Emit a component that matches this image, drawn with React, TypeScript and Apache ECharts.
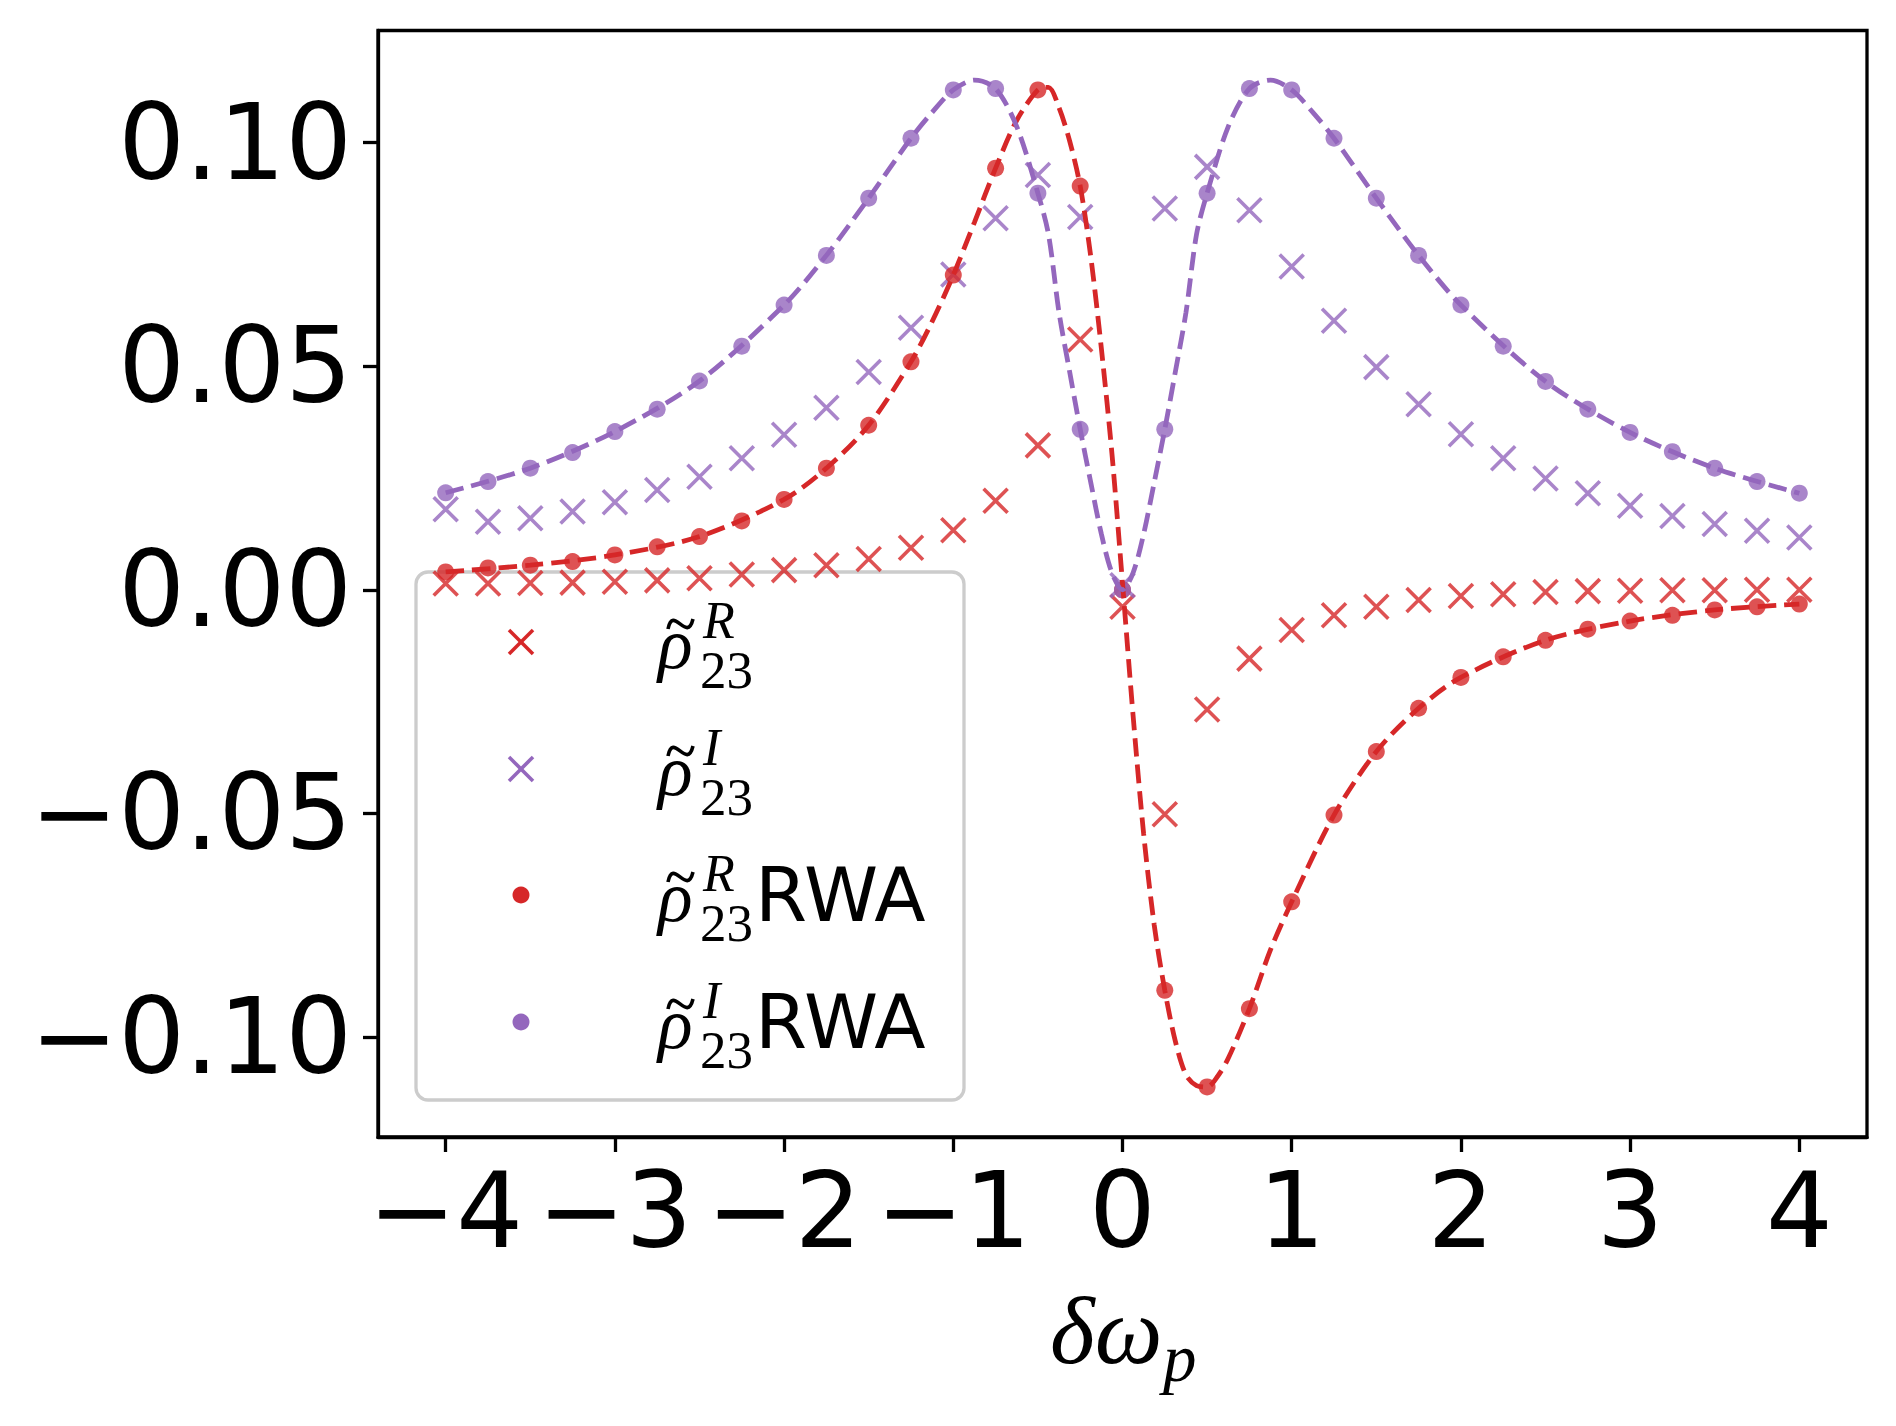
import React, { useEffect, useRef } from "react";
import * as echarts from "echarts";

// ---- data ----
const detuning = [
  -4, -3.75, -3.5, -3.25, -3, -2.75, -2.5, -2.25, -2, -1.75, -1.5, -1.25, -1, -0.75, -0.5, -0.25,
  0, 0.25, 0.5, 0.75, 1, 1.25, 1.5, 1.75, 2, 2.25, 2.5, 2.75, 3, 3.25, 3.5, 3.75, 4,
];
const rhoR = [
  0.0014, 0.0014, 0.0015, 0.0016, 0.0018, 0.0021, 0.0026, 0.0034, 0.0044, 0.0055, 0.0069, 0.0094,
  0.0133, 0.0199, 0.0323, 0.056, -0.0038, -0.0502, -0.0268, -0.0154, -0.009, -0.0057, -0.0038,
  -0.0023, -0.0014, -0.001, -0.0005, -0.0003, -0.0002, -0.0001, -0.0001, 0.0, 0.0,
];
const rhoI = [
  0.018, 0.0152, 0.016, 0.0175, 0.0196, 0.0223, 0.0253, 0.0294, 0.0347, 0.0407, 0.0487, 0.0586,
  0.0705, 0.0831, 0.0928, 0.0834, 0.001, 0.0853, 0.0946, 0.0849, 0.0723, 0.0602, 0.0498, 0.0415,
  0.0348, 0.0294, 0.0249, 0.0216, 0.0188, 0.0165, 0.0147, 0.0132, 0.0117,
];
const rhoR_RWA = [
  0.004, 0.0049, 0.0055, 0.0063, 0.0078, 0.0096, 0.0119, 0.0154, 0.0202, 0.0272, 0.0368, 0.051,
  0.0704, 0.0943, 0.1118, 0.0903, 0.0, -0.0896, -0.1112, -0.0937, -0.0698, -0.0504, -0.0362,
  -0.0265, -0.0196, -0.015, -0.0113, -0.0088, -0.007, -0.0057, -0.0045, -0.0038, -0.0032,
];
const rhoI_RWA = [
  0.0217, 0.0242, 0.0272, 0.0307, 0.0354, 0.0404, 0.0467, 0.0545, 0.0637, 0.0748, 0.0876, 0.101,
  0.1118, 0.1121, 0.0887, 0.0359, 0.0, 0.0359, 0.0887, 0.1121, 0.1118, 0.101, 0.0876, 0.0748,
  0.0637, 0.0545, 0.0466, 0.0404, 0.0352, 0.0309, 0.0272, 0.0242, 0.0216,
];
// dashed RWA curves (finer sampling)
const curveRx = [
  -4, -3.5, -3, -2.5, -2, -1.75, -1.5, -1.25, -1.125, -1, -0.875, -0.75, -0.625, -0.5, -0.4375,
  -0.375, -0.3125, -0.25, -0.1875, -0.125, -0.0625, 0, 0.0625, 0.125, 0.1875, 0.25, 0.3125, 0.375,
  0.4375, 0.5, 0.5625, 0.625, 0.75, 0.875, 1, 1.25, 1.5, 1.75, 2, 2.5, 3, 3.5, 4,
];
const curveRy = [
  0.004, 0.0055, 0.0078, 0.0119, 0.0202, 0.0272, 0.0368, 0.051, 0.06, 0.0704, 0.0822, 0.0943,
  0.105, 0.1118, 0.1124, 0.1078, 0.1004, 0.0903, 0.0745, 0.054, 0.0305, 0.0015, -0.0281, -0.0546,
  -0.075, -0.0896, -0.101, -0.1085, -0.1109, -0.1112, -0.1088, -0.1048, -0.0937, -0.0805, -0.0698,
  -0.0504, -0.0362, -0.0265, -0.0196, -0.0113, -0.007, -0.0045, -0.0032,
];
const curveIx = [
  -4, -3.5, -3, -2.5, -2, -1.75, -1.5, -1.25, -1.125, -1, -0.875, -0.75, -0.625, -0.5, -0.4375,
  -0.375, -0.3125, -0.25, -0.1875, -0.125, -0.0625, 0, 0.0625, 0.125, 0.1875, 0.25, 0.3125, 0.375,
  0.4375, 0.5, 0.625, 0.75, 0.875, 1, 1.125, 1.25, 1.5, 1.75, 2, 2.5, 3, 3.5, 4,
];
const curveIy = [
  0.0217, 0.0272, 0.0354, 0.0467, 0.0637, 0.0748, 0.0876, 0.101, 0.1068, 0.1118, 0.114, 0.1121,
  0.1036, 0.0887, 0.0795, 0.062, 0.0488, 0.0359, 0.024, 0.0125, 0.0038, 0.0, 0.0038, 0.0125, 0.024,
  0.0359, 0.0488, 0.062, 0.0795, 0.0887, 0.1036, 0.1121, 0.114, 0.1118, 0.1068, 0.101, 0.0876,
  0.0748, 0.0637, 0.0466, 0.0352, 0.0272, 0.0216,
];
const xTicks = [-4, -3, -2, -1, 0, 1, 2, 3, 4];
const yTicks = [-0.1, -0.05, 0, 0.05, 0.1];
const legendSup = ["R", "I", "R", "I"];
const legendSuffix = ["", "", "RWA", "RWA"];
const legendMarker = ["cross", "cross", "dot", "dot"];

const RED = "#d62728";
const PURPLE = "#9467bd";
const X_PATH = "path://M0 0L10 10M10 0L0 10";
const X_SIZE = 24;
const X_WIDTH = 3.6;
const DOT_SIZE = 17;
const LINE_W = 4.8;
const DASH = [18.5, 8];

const G = { left: 378, top: 30.5, width: 1489, height: 1106.5 };

function minus(s: string) {
  return s.replace("-", "\u2212");
}

function buildLegend() {
  const children: any[] = [];
  children.push({
    type: "rect",
    shape: { x: 416, y: 572, width: 548, height: 528, r: 12 },
    style: { fill: "rgba(255,255,255,0.8)", stroke: "#cccccc", lineWidth: 3.3 },
  });
  const rows = [642, 769, 895, 1022];
  rows.forEach((c, i) => {
    const color = i % 2 === 0 ? RED : PURPLE;
    if (legendMarker[i] === "cross") {
      const h = X_SIZE / 2;
      children.push({
        type: "line",
        shape: { x1: 521 - h, y1: c - h, x2: 521 + h, y2: c + h },
        style: { stroke: color, lineWidth: X_WIDTH },
      });
      children.push({
        type: "line",
        shape: { x1: 521 - h, y1: c + h, x2: 521 + h, y2: c - h },
        style: { stroke: color, lineWidth: X_WIDTH },
      });
    } else {
      children.push({
        type: "circle",
        shape: { cx: 521, cy: c, r: DOT_SIZE / 2 },
        style: { fill: color },
      });
    }
    // rho
    children.push({
      type: "text",
      x: 658,
      y: c + 1.5,
      style: {
        text: "\u03c1",
        font: "italic 72px 'Liberation Serif'",
        fill: "#000",
        align: "left",
        verticalAlign: "middle",
      },
    });
    // tilde
    children.push({
      type: "bezierCurve",
      shape: {
        x1: 668, y1: c - 13, cpx1: 673, cpy1: c - 38, cpx2: 687, cpy2: c + 2, x2: 693, y2: c - 23,
      },
      style: { stroke: "#000", lineWidth: 3.6, fill: "none" },
    });
    // superscript
    children.push({
      type: "text",
      x: 703,
      y: c - 22,
      style: {
        text: legendSup[i],
        font: "italic 52px 'Liberation Serif'",
        fill: "#000",
        align: "left",
        verticalAlign: "middle",
      },
    });
    // subscript
    children.push({
      type: "text",
      x: 700,
      y: c + 28,
      style: {
        text: "23",
        font: "53px 'Liberation Serif'",
        fill: "#000",
        align: "left",
        verticalAlign: "middle",
      },
    });
    if (legendSuffix[i]) {
      children.push({
        type: "text",
        x: 755,
        y: c - 0.5,
        style: {
          text: legendSuffix[i],
          font: "75px 'DejaVu Sans'",
          fill: "#000",
          align: "left",
          verticalAlign: "middle",
        },
      });
    }
  });
  return { type: "group", z: 100, silent: true, children };
}

function buildXLabel() {
  return {
    type: "group",
    silent: true,
    children: [
      {
        type: "text",
        x: 1050,
        y: 1330,
        style: {
          text: "\u03b4\u03c9",
          font: "italic 96px 'Liberation Serif'",
          fill: "#000",
          align: "left",
          verticalAlign: "middle",
        },
      },
      {
        type: "text",
        x: 1163,
        y: 1358,
        style: {
          text: "p",
          font: "italic 67px 'Liberation Serif'",
          fill: "#000",
          align: "left",
          verticalAlign: "middle",
        },
      },
    ],
  };
}

export default function App() {
  const ref = useRef<HTMLDivElement>(null);
  useEffect(() => {
    document.body.style.margin = "0";
    if (!ref.current) return;
    const chart = echarts.init(ref.current, undefined, { renderer: "svg" });
    const pairs = (xs: number[], ys: number[]) => xs.map((x, i) => [x, ys[i]]);
    const axisCommon = {
      type: "value" as const,
      splitLine: { show: false },
      axisLine: { show: true, onZero: false, lineStyle: { color: "#000", width: 3.3 } },
    };
    const crossStyle = (c: string) => ({
      color: "rgba(0,0,0,0)",
      borderColor: c,
      borderWidth: X_WIDTH,
    });
    const option: any = {
      animation: false,
      backgroundColor: "#fff",
      grid: {
        left: G.left,
        top: G.top,
        width: G.width,
        height: G.height,
        show: true,
        borderColor: "#000",
        borderWidth: 3.3,
        containLabel: false,
        outerBoundsMode: "none",
      },
      xAxis: {
        ...axisCommon,
        min: -4.4,
        max: 4.4,
        axisTick: {
          show: true,
          customValues: xTicks,
          length: 15,
          lineStyle: { color: "#000", width: 3.3 },
        },
        axisLabel: {
          customValues: xTicks,
          formatter: (v: number) => minus(String(Math.round(v))),
          fontSize: 105,
          fontFamily: "DejaVu Sans",
          color: "#000",
          margin: 21,
        },
      },
      yAxis: {
        ...axisCommon,
        min: -0.1224,
        max: 0.1251,
        axisTick: {
          show: true,
          customValues: yTicks,
          length: 15,
          lineStyle: { color: "#000", width: 3.3 },
        },
        axisLabel: {
          customValues: yTicks,
          formatter: (v: number) => minus(v.toFixed(2)),
          fontSize: 105,
          fontFamily: "DejaVu Sans",
          color: "#000",
          margin: 26,
        },
      },
      series: [
        {
          name: "rhoR",
          type: "scatter",
          data: pairs(detuning, rhoR),
          symbol: X_PATH,
          symbolSize: X_SIZE,
          itemStyle: crossStyle(RED),
          silent: true,
        },
        {
          name: "rhoI",
          type: "scatter",
          data: pairs(detuning, rhoI),
          symbol: X_PATH,
          symbolSize: X_SIZE,
          itemStyle: crossStyle(PURPLE),
          silent: true,
        },
        {
          name: "rhoR RWA curve",
          type: "line",
          data: pairs(curveRx, curveRy),
          showSymbol: false,
          smooth: 0.3,
          lineStyle: { color: RED, width: LINE_W, type: DASH },
          silent: true,
        },
        {
          name: "rhoR RWA",
          type: "scatter",
          data: pairs(detuning, rhoR_RWA),
          symbol: "circle",
          symbolSize: DOT_SIZE,
          itemStyle: { color: RED },
          silent: true,
        },
        {
          name: "rhoI RWA curve",
          type: "line",
          data: pairs(curveIx, curveIy),
          showSymbol: false,
          smooth: 0.3,
          lineStyle: { color: PURPLE, width: LINE_W, type: DASH },
          silent: true,
        },
        {
          name: "rhoI RWA",
          type: "scatter",
          data: pairs(detuning, rhoI_RWA),
          symbol: "circle",
          symbolSize: DOT_SIZE,
          itemStyle: { color: PURPLE },
          silent: true,
        },
      ],
      graphic: [buildLegend(), buildXLabel()],
    };
    chart.setOption(option);
    return () => chart.dispose();
  }, []);
  return <div ref={ref} style={{ width: 1896, height: 1426 }} />;
}
